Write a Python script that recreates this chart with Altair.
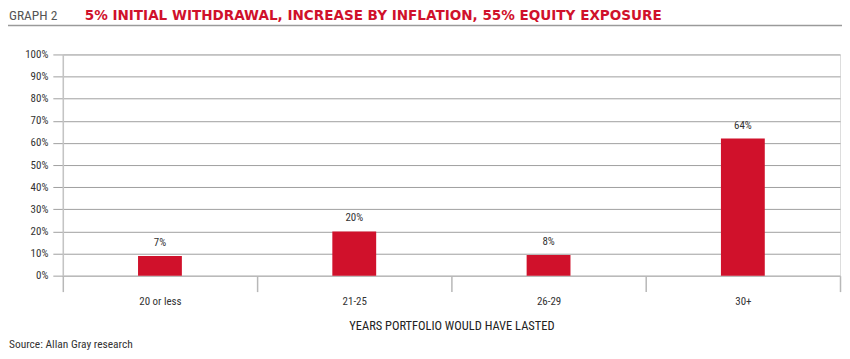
import altair as alt
import pandas as pd

categories = ["20 or less", "21-25", "26-29", "30+"]
bar_values = [8.9, 20.0, 9.3, 62.0]
bar_labels = ["7%", "20%", "8%", "64%"]
y_ticks = [0, 10, 20, 30, 40, 50, 60, 70, 80, 90, 100]

df = pd.DataFrame({"cat": categories, "value": bar_values, "label": bar_labels})

NARROW = "'Liberation Sans Narrow', 'Roboto Condensed', Roboto, sans-serif"
RED = "#d0112b"
W, H = 780, 222

x_enc = alt.X(
    "cat:N",
    sort=categories,
    scale=alt.Scale(paddingInner=0, paddingOuter=0),
    axis=alt.Axis(
        title="YEARS PORTFOLIO WOULD HAVE LASTED",
        labelAngle=0,
        domain=False,
        grid=False,
        ticks=True,
        tickBand="extent",
        tickSize=16,
        tickColor="#b8b8b8",
        tickWidth=1.5,
        labelPadding=4,
        labelFont=NARROW,
        labelFontSize=11,
        labelColor="#333333",
        titleFont=NARROW,
        titleFontSize=12.5,
        titleFontWeight="normal",
        titleColor="#222222",
        titlePadding=13,
    ),
)
y_enc = alt.Y(
    "value:Q",
    scale=alt.Scale(domain=[0, 100], nice=False),
    axis=alt.Axis(
        title=None,
        values=y_ticks,
        labelExpr="datum.value + '%'",
        labelOverlap=False,
        grid=True,
        gridColor="#a0a0a0",
        gridWidth=1,
        domain=True,
        domainColor="#c4c4c4",
        domainWidth=1.5,
        tickSize=10,
        tickColor="#a0a0a0",
        labelPadding=5,
        labelFont=NARROW,
        labelFontSize=11,
        labelColor="#333333",
    ),
)

bars = alt.Chart(df).mark_bar(size=44, color=RED).encode(x=x_enc, y=y_enc)
labels = alt.Chart(df).mark_text(
    dy=-13, font=NARROW, fontSize=11, color="#333333", baseline="middle"
).encode(x=x_enc, y=y_enc, text="label:N")

hdr = pd.DataFrame({"a": [0]})
graph_no = alt.Chart(hdr).mark_text(
    text="GRAPH 2", font=NARROW, fontSize=13.5, color="#555555", align="left", baseline="alphabetic"
).encode(x=alt.value(-54), y=alt.value(-35))
title = alt.Chart(hdr).mark_text(
    text="5% INITIAL WITHDRAWAL, INCREASE BY INFLATION, 55% EQUITY EXPOSURE",
    font="'DejaVu Sans', sans-serif", fontWeight="bold", fontSize=13.6, color=RED,
    align="left", baseline="alphabetic",
).encode(x=alt.value(22), y=alt.value(-35))
hline = alt.Chart(hdr).mark_rule(color="#9a9a9a", strokeWidth=1.5).encode(
    x=alt.value(-55), x2=alt.value(782), y=alt.value(-29)
)
source = alt.Chart(hdr).mark_text(
    text="Source: Allan Gray research", font=NARROW, fontSize=11.5, color="#333333",
    align="left", baseline="alphabetic",
).encode(x=alt.value(-54), y=alt.value(295))

chart = alt.layer(bars, labels, graph_no, title, hline, source).properties(
    width=W,
    height=H,
    autosize=alt.AutoSizeParams(type="none"),
    padding={"left": 55, "top": 46, "right": 2, "bottom": 75},
).configure_view(stroke=None).configure(background="white")

chart.save("out.html", embed_options={"renderer": "svg", "actions": False})
